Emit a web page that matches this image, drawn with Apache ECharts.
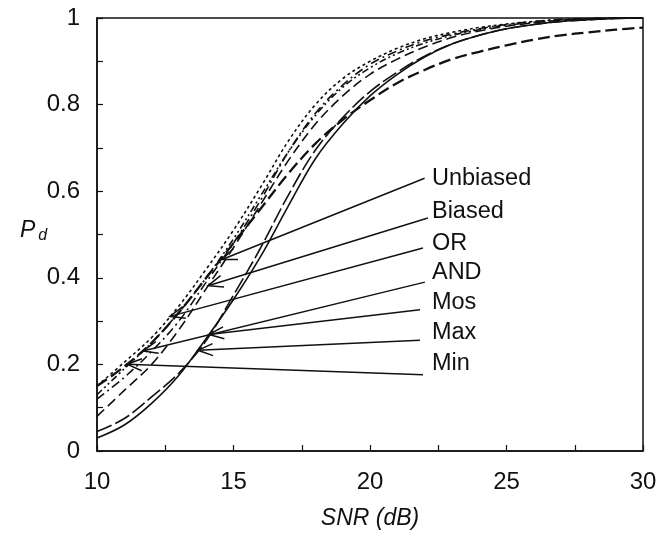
<!DOCTYPE html>
<html>
<head>
<meta charset="utf-8">
<script src="https://cdn.jsdelivr.net/npm/echarts@6/dist/echarts.min.js"></script>
<style>
  html, body { margin: 0; padding: 0; background: #fff; }
  #chart { width: 660px; height: 548px; }
</style>
</head>
<body>
<div id="chart"></div>
<script>
// Detection probability versus SNR for several fusion rules
const snr = [10, 11, 12, 13, 14, 15, 16, 17, 18, 19, 20, 21, 22, 23, 24, 25, 26, 27, 28, 29, 30];
const unbiased = [0.12, 0.17, 0.23, 0.30, 0.39, 0.48, 0.58, 0.69, 0.78, 0.845, 0.893, 0.924, 0.947, 0.963, 0.975, 0.985, 0.992, 0.997, 0.999, 1, 1];
const biased   = [0.08, 0.14, 0.20, 0.28, 0.375, 0.47, 0.57, 0.67, 0.755, 0.82, 0.87, 0.905, 0.933, 0.955, 0.97, 0.981, 0.989, 0.995, 0.998, 1, 1];
const orRule   = [0.15, 0.205, 0.262, 0.335, 0.42, 0.51, 0.61, 0.715, 0.80, 0.86, 0.90, 0.93, 0.952, 0.967, 0.978, 0.986, 0.992, 0.996, 0.998, 1, 1];
const andRule  = [0.13, 0.19, 0.25, 0.32, 0.40, 0.49, 0.59, 0.69, 0.775, 0.84, 0.885, 0.918, 0.942, 0.96, 0.973, 0.983, 0.99, 0.995, 0.998, 1, 1];
const mos      = [0.03, 0.06, 0.11, 0.175, 0.26, 0.35, 0.45, 0.565, 0.675, 0.755, 0.82, 0.87, 0.91, 0.94, 0.96, 0.975, 0.985, 0.992, 0.996, 0.999, 1];
const maxRule  = [0.045, 0.075, 0.125, 0.18, 0.255, 0.36, 0.47, 0.59, 0.695, 0.77, 0.83, 0.875, 0.912, 0.94, 0.96, 0.975, 0.985, 0.992, 0.996, 0.999, 1];
const minRule  = [0.15, 0.195, 0.25, 0.32, 0.40, 0.48, 0.56, 0.64, 0.71, 0.765, 0.81, 0.85, 0.88, 0.905, 0.922, 0.937, 0.95, 0.96, 0.967, 0.973, 0.978];

const xTicks = [10, 15, 20, 25, 30];
const yTicks = [0, 0.2, 0.4, 0.6, 0.8, 1];

// Callout labels: name, SNR where the arrow meets its curve
const calloutNames = ['Unbiased', 'Biased', 'OR', 'AND', 'Mos', 'Max', 'Min'];
const calloutSeries = [unbiased, biased, orRule, andRule, mos, maxRule, minRule];
const calloutTipSnr = [14.58, 14.07, 12.67, 11.68, 14.10, 13.70, 11.10];

// Where each leader line starts (data space) and the text row it belongs to
const leaderStart = [[22.0, 0.630], [22.12, 0.538], [21.94, 0.469], [22.01, 0.390], [21.83, 0.326], [21.83, 0.256], [21.94, 0.176]];
const labelRowY = [0.630, 0.554, 0.480, 0.413, 0.342, 0.273, 0.203];
const labelX = 22.27;

function interp(xs, ys, x) {
  for (let i = 0; i < xs.length - 1; i++) {
    if (x >= xs[i] && x <= xs[i + 1]) {
      const t = (x - xs[i]) / (xs[i + 1] - xs[i]);
      return ys[i] + t * (ys[i + 1] - ys[i]);
    }
  }
  return ys[ys.length - 1];
}

const calloutData = calloutNames.map((n, i) => {
  const tx = calloutTipSnr[i];
  const ty = interp(snr, calloutSeries[i], tx);
  return [tx, ty, leaderStart[i][0], leaderStart[i][1], labelX, labelRowY[i]];
});

const FONT = '"Liberation Sans", Arial, Helvetica, sans-serif';
const INK = '#111';

function curve(name, values, dash, width) {
  return {
    name: name,
    type: 'line',
    data: snr.map((x, i) => [x, values[i]]),
    showSymbol: false,
    smooth: 0.35,
    lineStyle: { color: INK, width: width || 1.6, type: dash },
    emphasis: { disabled: true },
    z: 3
  };
}

const chart = echarts.init(document.getElementById('chart'));

chart.setOption({
  animation: false,
  backgroundColor: '#fff',
  grid: {
    left: 97, right: 17, top: 18, bottom: 97,
    show: true, borderColor: INK, borderWidth: 1.5, backgroundColor: 'transparent'
  },
  xAxis: {
    type: 'value', min: 10, max: 30, interval: 2.5,
    name: 'SNR (dB)', nameLocation: 'middle', nameGap: 56,
    nameTextStyle: { fontFamily: FONT, fontSize: 23, fontStyle: 'italic', color: INK },
    axisLine: { show: true, lineStyle: { color: INK, width: 1.5 } },
    axisTick: { show: true, inside: true, length: 6, lineStyle: { color: INK, width: 1.2 } },
    splitLine: { show: false },
    axisLabel: {
      margin: 19, fontFamily: FONT, fontSize: 24, color: INK,
      formatter: v => (xTicks.indexOf(v) >= 0 ? String(v) : '')
    }
  },
  yAxis: {
    type: 'value', min: 0, max: 1, interval: 0.1,
    axisLine: { show: true, lineStyle: { color: INK, width: 1.5 } },
    axisTick: { show: true, inside: true, length: 6, lineStyle: { color: INK, width: 1.2 } },
    splitLine: { show: false },
    axisLabel: {
      margin: 17, fontFamily: FONT, fontSize: 24, color: INK,
      formatter: v => {
        const r = Math.round(v * 10) / 10;
        return yTicks.some(t => Math.abs(t - r) < 1e-9) ? String(r) : '';
      }
    }
  },
  graphic: [{
    type: 'text', left: 20, top: 219,
    style: {
      text: '{p|P}{d|d}',
      rich: {
        p: { fontFamily: FONT, fontSize: 23, fontStyle: 'italic', fill: INK },
        d: { fontFamily: FONT, fontSize: 16, fontStyle: 'italic', fill: INK, padding: [10, 0, 0, 3] }
      }
    }
  }],
  series: [
    curve('Unbiased', unbiased, [9, 4, 2, 4]),
    curve('Biased', biased, [10, 5]),
    curve('OR', orRule, [3, 3]),
    curve('AND', andRule, [7, 3, 2, 3, 2, 3]),
    curve('Mos', mos, 'solid'),
    curve('Max', maxRule, [16, 4]),
    curve('Min', minRule, [12, 5], 2.3),
    {
      type: 'custom',
      name: 'callouts',
      data: calloutData,
      encode: { x: [0, 2, 4], y: [1, 3, 5] },
      clip: false,
      z: 5,
      silent: true,
      renderItem: function (params, api) {
        const tip = api.coord([api.value(0), api.value(1)]);
        const start = api.coord([api.value(2), api.value(3)]);
        const txt = api.coord([api.value(4), api.value(5)]);
        const dx = start[0] - tip[0], dy = start[1] - tip[1];
        const len = Math.sqrt(dx * dx + dy * dy);
        const ux = dx / len, uy = dy / len;
        const a = 22 * Math.PI / 180, L = 16;
        const w1 = [tip[0] + L * (ux * Math.cos(a) - uy * Math.sin(a)), tip[1] + L * (ux * Math.sin(a) + uy * Math.cos(a))];
        const w2 = [tip[0] + L * (ux * Math.cos(-a) - uy * Math.sin(-a)), tip[1] + L * (ux * Math.sin(-a) + uy * Math.cos(-a))];
        return {
          type: 'group',
          children: [
            { type: 'line', shape: { x1: start[0], y1: start[1], x2: tip[0], y2: tip[1] },
              style: { stroke: INK, lineWidth: 1.5 } },
            { type: 'polyline', shape: { points: [w1, tip, w2] },
              style: { stroke: INK, lineWidth: 1.5, fill: null } },
            { type: 'text', x: txt[0], y: txt[1],
              style: { text: calloutNames[params.dataIndex], fontFamily: FONT, fontSize: 23.5,
                       fill: INK, textAlign: 'left', textVerticalAlign: 'middle' } }
          ]
        };
      }
    }
  ]
});
</script>
</body>
</html>
